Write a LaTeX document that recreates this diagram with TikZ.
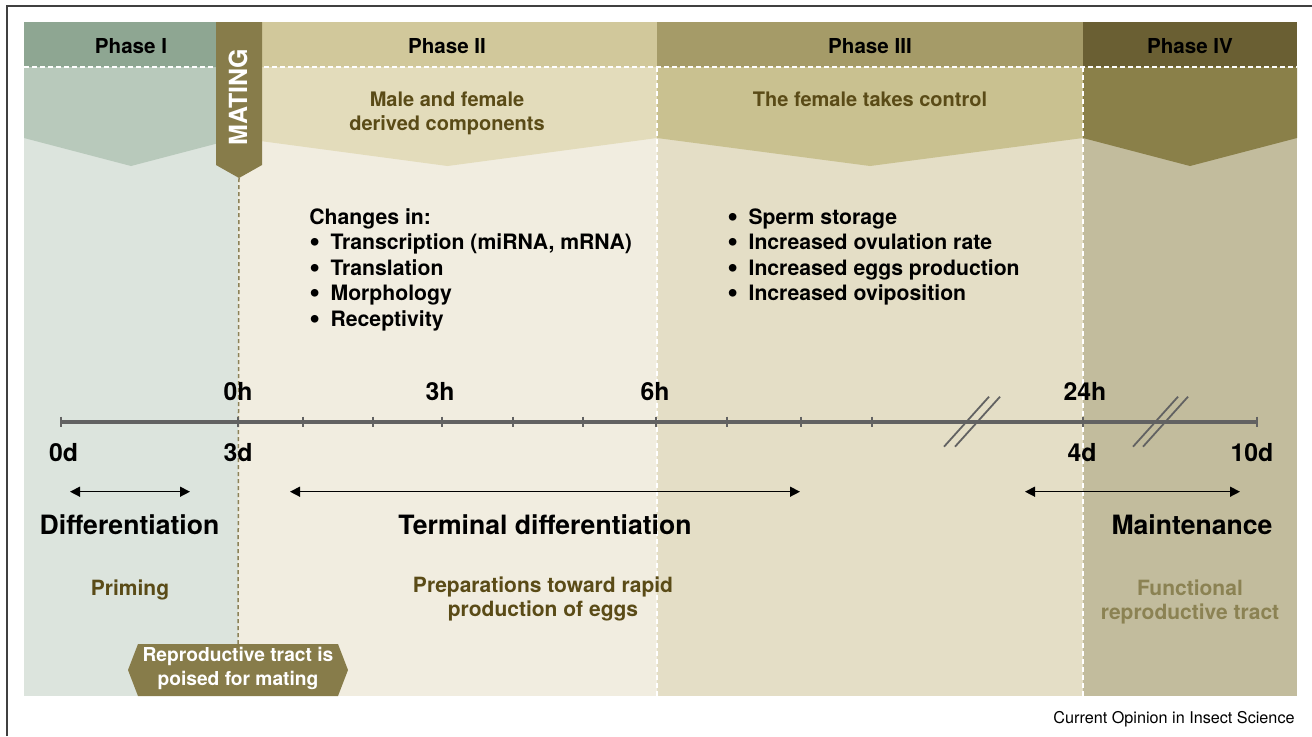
\documentclass[tikz,border=0pt]{standalone}
\usepackage{fontspec}
\setmainfont{TeX Gyre Heros}
\usetikzlibrary{arrows.meta}
\definecolor{headI}{HTML}{8EA692}
\definecolor{chevI}{HTML}{B8C9BB}
\definecolor{bodyI}{HTML}{DCE4DD}
\definecolor{headII}{HTML}{D1C89B}
\definecolor{chevII}{HTML}{E3DCBB}
\definecolor{bodyII}{HTML}{F1EDE0}
\definecolor{headIII}{HTML}{A59B68}
\definecolor{chevIII}{HTML}{C9C190}
\definecolor{bodyIII}{HTML}{E4DEC6}
\definecolor{headIV}{HTML}{6A5F33}
\definecolor{chevIV}{HTML}{8A8049}
\definecolor{bodyIV}{HTML}{C2BC9D}
\definecolor{mating}{HTML}{877C4A}
\definecolor{olivetext}{HTML}{5A4B17}
\definecolor{functext}{HTML}{8B8253}
\definecolor{timeline}{HTML}{626262}
\definecolor{matingdash}{HTML}{8C8258}
\newcommand{\bigbullet}{\makebox[10.6pt][l]{\smash{\raisebox{-0.15ex}{\scalebox{1.45}{\textbullet}}}}}

\begin{document}
\begin{tikzpicture}[x=0.5pt,y=-0.5pt]
  \tikzset{phasetitle/.style={anchor=base,inner sep=0pt,font=\fontsize{10.3}{12}\selectfont\bfseries}}
  \tikzset{subtitle/.style={anchor=base,inner sep=0pt,align=center,text=olivetext,font=\fontsize{10}{12}\selectfont\bfseries}}
  \tikzset{listitem/.style={anchor=base west,inner sep=0pt,font=\fontsize{10.6}{12}\selectfont\bfseries}}
  \tikzset{ticklabel/.style={anchor=base,inner sep=0pt,font=\fontsize{12.4}{14}\selectfont\bfseries}}
  \tikzset{stagelabel/.style={anchor=base,inner sep=0pt,font=\fontsize{13.3}{15}\selectfont\bfseries}}
  \tikzset{rolelabel/.style={anchor=base,inner sep=0pt,align=center,font=\fontsize{10.5}{12}\selectfont\bfseries}}
  \tikzset{whitedash/.style={white,line width=0.75pt,dash pattern=on 2.5pt off 1.5pt}}
  \tikzset{spanarrow/.style={{Triangle[length=5pt,width=5pt]}-{Triangle[length=5pt,width=5pt]},line width=0.7pt}}

  \useasboundingbox (0,0) rectangle (1312,736);
  \draw[line width=1pt,black!75] (7,736) -- (7,6) -- (1312,6);

  % phase columns: body, chevron, header
  \foreach \xa/\xb/\nm in {24/238/I,238/657/II,657/1083/III,1083/1297/IV}{
    \fill[body\nm] (\xa,22) rectangle (\xb,696);
    \fill[chev\nm] (\xa,67) -- (\xb,67) -- (\xb,138) -- ({(\xa+\xb)/2},166) -- (\xa,138) -- cycle;
    \fill[head\nm] (\xa,22) rectangle (\xb,67);
  }
  \draw[whitedash] (24,67) -- (1297,67);
  \draw[whitedash] (657,67) -- (657,696);
  \draw[whitedash] (1083,67) -- (1083,696);

  \node[phasetitle] (ph1) at (131,53.5) {Phase I};
  \node[phasetitle] (ph2) at (447,53.5) {Phase II};
  \node[phasetitle] (ph3) at (870,53.5) {Phase III};
  \node[phasetitle] (ph4) at (1190,53.5) {Phase IV};

  % mating band
  \fill[mating] (216,22) -- (262,22) -- (262,165) -- (239,178) coordinate (matingtip) -- (216,165) -- cycle;
  \node[rotate=90,anchor=base,inner sep=0pt,text=white,font=\fontsize{12.5}{14}\selectfont\bfseries] (mating) at (247,97) {MATING};
  \fill[mating] (128,670) -- (138,644) -- (338,644) -- (348,670) -- (338,696) -- (138,696) -- cycle;
  \coordinate (poisedtip) at (238,644);
  \draw[matingdash,line width=0.75pt,dash pattern=on 2pt off 1.5pt] (matingtip) -- (poisedtip);

  \node[subtitle] (sub2) at (447,130) {Male and female\\derived components};
  \node[subtitle] (sub3) at (870,106) {The female takes control};

  \node[listitem] (changes) at (309,224.3) {Changes in:};
  \foreach \txt [count=\i] in {{Transcription (miRNA, mRNA)},Translation,Morphology,Receptivity}
    \node[listitem] (chg\i) at (309,{224.3+25.5*\i}) {\bigbullet\txt};
  \foreach \txt [count=\i from 0] in {Sperm storage,Increased ovulation rate,Increased eggs production,Increased oviposition}
    \node[listitem] (eff\i) at (727,{224.3+25.5*\i}) {\bigbullet\txt};

  % time axis
  \coordinate (t0) at (61,421.7);
  \coordinate (t1) at (1257,421.7);
  \draw[timeline,line width=1.8pt] (t0) -- (t1);
  \foreach \x in {61,238,303,373,442,513,583,656,727,801,872,1083,1257}
    \draw[timeline,line width=1.1pt] (\x,416.5) -- (\x,427);
  \foreach \x in {944,955,1133,1143}
    \draw[timeline,line width=0.9pt] (\x,446.7) -- ++(45,-50);

  \node[ticklabel] (h0) at (238,400) {0h};
  \node[ticklabel] (h3) at (440,400) {3h};
  \node[ticklabel] (h6) at (655,400) {6h};
  \node[ticklabel] (h24) at (1085,400) {24h};
  \node[ticklabel] (d0) at (63.5,461.7) {0d};
  \node[ticklabel] (d3) at (238,461.7) {3d};
  \node[ticklabel] (d4) at (1082,461.7) {4d};
  \node[ticklabel] (d10) at (1252,461.7) {10d};

  \coordinate (diffL) at (70,491.7);
  \coordinate (diffR) at (190,491.7);
  \coordinate (termL) at (290,491.7);
  \coordinate (termR) at (800,491.7);
  \coordinate (maintL) at (1025,491.7);
  \coordinate (maintR) at (1240,491.7);
  \draw[spanarrow] (diffL) -- (diffR);
  \draw[spanarrow] (termL) -- (termR);
  \draw[spanarrow] (maintL) -- (maintR);

  \node[stagelabel] (diff) at (129.5,534.3) {Differentiation};
  \node[stagelabel] (term) at (545,534.3) {Terminal differentiation};
  \node[stagelabel] (maint) at (1192,534.3) {Maintenance};

  \node[rolelabel,text=olivetext] (prim) at (130,595) {Priming};
  \node[rolelabel,text=olivetext] (prep) at (543,616.5) {Preparations toward rapid\\production of eggs};
  \node[rolelabel,text=functext] (func) at (1190,619.5) {Functional\\reproductive tract};
  \node[anchor=base,inner sep=0pt,align=center,text=white,font=\fontsize{9.6}{11.6}\selectfont\bfseries] (poised) at (238,685) {Reproductive tract is\\poised for mating};

  \node[anchor=base east,inner sep=0pt,font=\fontsize{8.1}{10}\selectfont] (credit) at (1295,723) {Current Opinion in Insect Science};
\end{tikzpicture}
\end{document}
